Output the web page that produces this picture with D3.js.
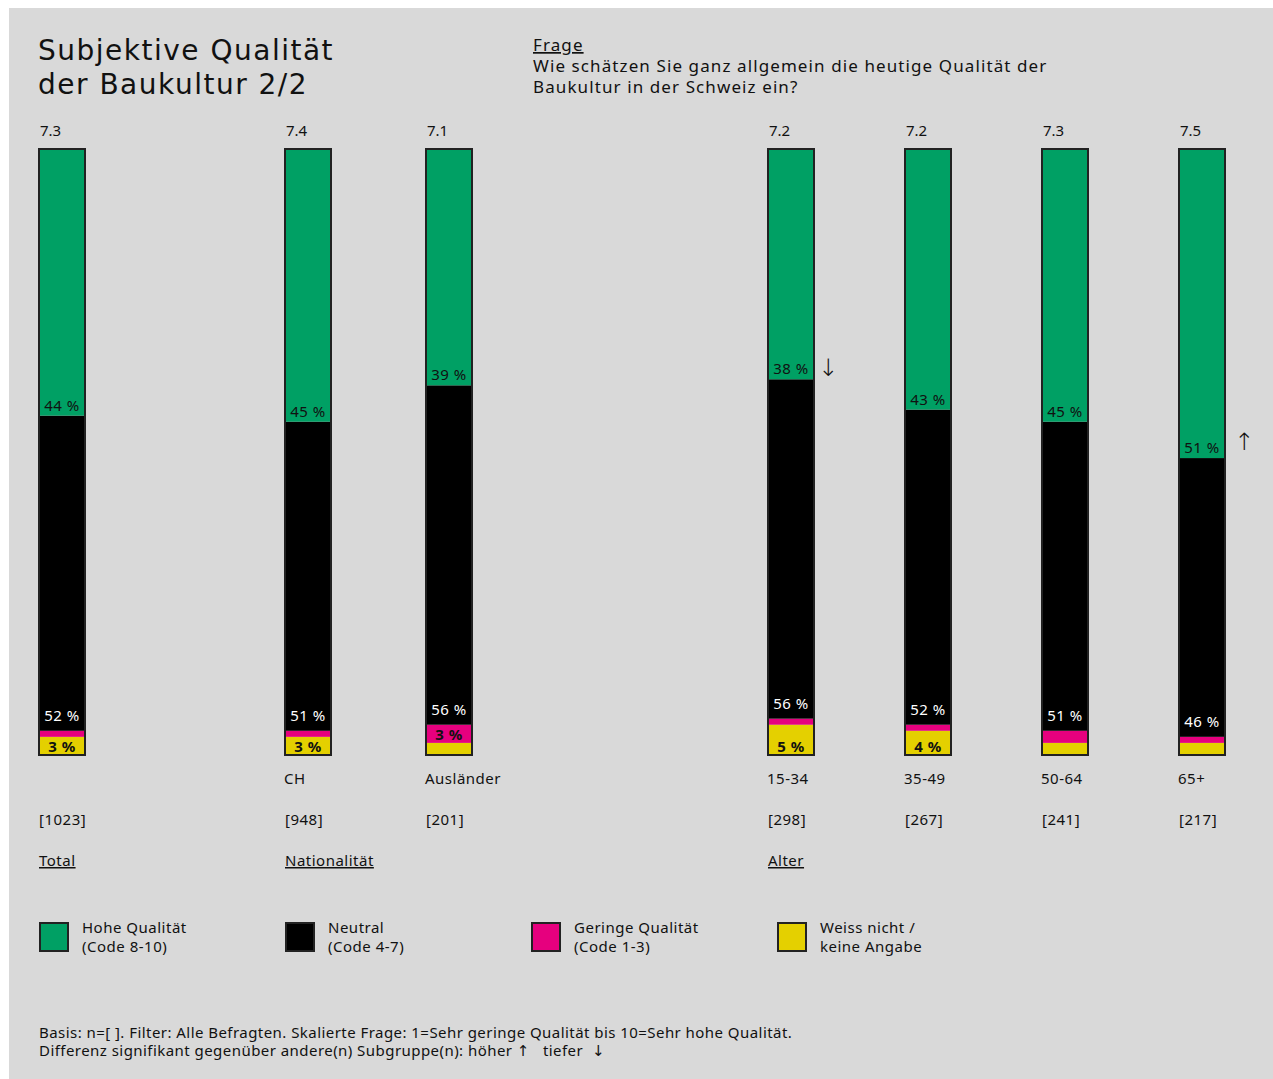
<!DOCTYPE html>
<html>
<head>
<meta charset="utf-8">
<script src="https://cdn.jsdelivr.net/npm/d3@7"></script>
<style>
  html, body { margin: 0; padding: 0; background: #ffffff; }
  svg { display: block; }
  text { font-family: "Noto Sans", "Open Sans", sans-serif; }
  .arrow { font-family: "DejaVu Sans", sans-serif; }
  .title { font-family: "DejaVu Sans", "Noto Sans", sans-serif; }
</style>
</head>
<body>
<svg id="chart" width="1273" height="1079"></svg>
<script>
// ---- data ----
const categories = ["Total", "CH", "Ausländer", "15-34", "35-49", "50-64", "65+"];
const categoryGroups = ["Total", "Nationalität", "Nationalität", "Alter", "Alter", "Alter", "Alter"];
const categoryLabels = ["", "CH", "Ausländer", "15-34", "35-49", "50-64", "65+"];
const sampleSizes = ["[1023]", "[948]", "[201]", "[298]", "[267]", "[241]", "[217]"];
const meanScores = ["7.3", "7.4", "7.1", "7.2", "7.2", "7.3", "7.5"];

// shares in percent, stacked from the bottom: weiss nicht, geringe, neutral, hohe
const weissNicht = [3, 3, 2, 5, 4, 2, 2];
const geringe    = [1, 1, 3, 1, 1, 2, 1];
const neutral    = [52, 51, 56, 56, 52, 51, 46];
const hohe       = [44, 45, 39, 38, 43, 45, 51];

// significance marks: +1 higher, -1 lower, 0 none
const significance = [0, 0, 0, -1, 0, 0, 1];

const seriesKeys = ["weissNicht", "geringe", "neutral", "hohe"];
const legendLabels = [
  ["Hohe Qualität", "(Code 8-10)"],
  ["Neutral", "(Code 4-7)"],
  ["Geringe Qualität", "(Code 1-3)"],
  ["Weiss nicht /", "keine Angabe"]
];
const legendKeys = ["hohe", "neutral", "geringe", "weissNicht"];
const groupNames = ["Total", "Nationalität", "Alter"];

// ---- styles ----
const colors = {
  hohe: "#00a064",
  neutral: "#000000",
  geringe: "#e6007e",
  weissNicht: "#e4d000"
};
const labelColors = { hohe: "#111", neutral: "#fff", geringe: "#111", weissNicht: "#111" };
const bg = "#d9d9d9";
const ls = "0.5px";

const svg = d3.select("#chart");
svg.append("rect").attr("x", 9).attr("y", 8).attr("width", 1264).attr("height", 1071).attr("fill", bg);

// ---- scales ----
// each group gets its own starting column; bars inside a group are spaced evenly
const groupStart = d3.scaleOrdinal().domain(groupNames).range([39, 285, 768]);
const groupStep = d3.scaleOrdinal().domain(groupNames).range([0, 141, 137]);
const indexInGroup = categories.map((c, i) => categoryGroups.slice(0, i).filter(g => g === categoryGroups[i]).length);
const xPos = d3.scaleOrdinal().domain(categories)
  .range(categories.map((c, i) => groupStart(categoryGroups[i]) + indexInGroup[i] * groupStep(categoryGroups[i])));
const barW = 46;

const y = d3.scaleLinear().domain([0, 100]).range([755, 149]);

// ---- stacked data ----
const rows = categories.map((c, i) => ({
  category: c,
  weissNicht: weissNicht[i],
  geringe: geringe[i],
  neutral: neutral[i],
  hohe: hohe[i]
}));
const stacked = d3.stack().keys(seriesKeys)(rows);

const g = svg.append("g");

stacked.forEach(layer => {
  g.append("g").selectAll("rect")
    .data(layer)
    .join("rect")
    .attr("x", d => xPos(d.data.category))
    .attr("y", d => y(d[1]))
    .attr("width", barW)
    .attr("height", d => y(d[0]) - y(d[1]))
    .attr("fill", colors[layer.key]);
});

// bar outlines
g.append("g").selectAll("rect")
  .data(rows)
  .join("rect")
  .attr("x", d => xPos(d.category))
  .attr("y", y(100))
  .attr("width", barW)
  .attr("height", y(0) - y(100))
  .attr("fill", "none")
  .attr("stroke", "#222")
  .attr("stroke-width", 2);

// ---- segment labels ----
const labelOffset = { hohe: 5, neutral: 10, geringe: 3, weissNicht: 3 };
stacked.forEach(layer => {
  const key = layer.key;
  const sel = layer.filter(d => (key === "hohe" || key === "neutral") ? true : d.data[key] >= 3);
  g.append("g").selectAll("text")
    .data(sel)
    .join("text")
    .attr("x", d => xPos(d.data.category) + barW / 2)
    .attr("y", d => y(d[0]) - labelOffset[key])
    .attr("text-anchor", "middle")
    .attr("font-size", 15)
    .attr("letter-spacing", ls)
    .attr("font-weight", (key === "weissNicht" || key === "geringe") ? 700 : 400)
    .attr("fill", labelColors[key])
    .text(d => d.data[key] + " %");
});

// significance arrows
g.append("g").selectAll("text")
  .data(rows.map((r, i) => ({ r, s: significance[i] })).filter(d => d.s !== 0))
  .join("text")
  .attr("class", "arrow")
  .attr("x", d => xPos(d.r.category) + barW + (d.s < 0 ? 14 : 19))
  .attr("y", d => y(d.r.weissNicht + d.r.geringe + d.r.neutral) - (d.s < 0 ? 3 : 8))
  .attr("text-anchor", "middle")
  .attr("font-size", 24)
  .attr("font-weight", 300)
  .attr("fill", "#111")
  .text(d => d.s > 0 ? "↑" : "↓");

// mean scores above bars
g.append("g").selectAll("text")
  .data(categories)
  .join("text")
  .attr("x", d => xPos(d) + 1)
  .attr("y", y(100) - 13)
  .attr("font-size", 15)
  .attr("fill", "#111")
  .text((d, i) => meanScores[i]);

// category labels
g.append("g").selectAll("text")
  .data(categories)
  .join("text")
  .attr("x", d => xPos(d) - 1)
  .attr("y", y(0) + 29)
  .attr("font-size", 15)
  .attr("letter-spacing", ls)
  .attr("fill", "#111")
  .text((d, i) => categoryLabels[i]);

// sample sizes
g.append("g").selectAll("text")
  .data(categories)
  .join("text")
  .attr("x", d => xPos(d))
  .attr("y", y(0) + 70)
  .attr("font-size", 15)
  .attr("letter-spacing", ls)
  .attr("fill", "#111")
  .text((d, i) => sampleSizes[i]);

// group labels (underlined)
g.append("g").selectAll("text")
  .data(groupNames)
  .join("text")
  .attr("x", d => groupStart(d))
  .attr("y", y(0) + 111)
  .attr("font-size", 15)
  .attr("letter-spacing", ls)
  .attr("fill", "#111")
  .attr("text-decoration", "underline")
  .text(d => d);

// ---- title and question ----
svg.append("text").attr("class", "title").attr("x", 38).attr("y", 60).attr("font-size", 28)
  .attr("letter-spacing", "1.5px").attr("fill", "#111")
  .text("Subjektive Qualität");
svg.append("text").attr("class", "title").attr("x", 38).attr("y", 94).attr("font-size", 28)
  .attr("letter-spacing", "1.5px").attr("fill", "#111")
  .text("der Baukultur 2/2");

svg.append("text").attr("x", 533).attr("y", 51).attr("font-size", 17).attr("letter-spacing", "1.1px")
  .attr("fill", "#111").attr("text-decoration", "underline").text("Frage");
svg.append("text").attr("x", 533).attr("y", 72).attr("font-size", 17).attr("letter-spacing", "1.1px")
  .attr("fill", "#111").text("Wie schätzen Sie ganz allgemein die heutige Qualität der");
svg.append("text").attr("x", 533).attr("y", 93).attr("font-size", 17).attr("letter-spacing", "1.1px")
  .attr("fill", "#111").text("Baukultur in der Schweiz ein?");

// ---- legend ----
const legendX = d3.scalePoint().domain(legendKeys).range([39, 777]);
const leg = svg.append("g").selectAll("g")
  .data(legendKeys)
  .join("g")
  .attr("transform", d => `translate(${legendX(d)},922)`);
leg.append("rect")
  .attr("x", 1).attr("y", 1).attr("width", 28).attr("height", 28)
  .attr("fill", d => colors[d])
  .attr("stroke", "#222").attr("stroke-width", 2);
leg.append("text")
  .attr("x", 43).attr("y", 11)
  .attr("font-size", 15).attr("letter-spacing", ls).attr("fill", "#111")
  .text((d, i) => legendLabels[i][0]);
leg.append("text")
  .attr("x", 43).attr("y", 30)
  .attr("font-size", 15).attr("letter-spacing", ls).attr("fill", "#111")
  .text((d, i) => legendLabels[i][1]);

// ---- footnote ----
svg.append("text").attr("x", 39).attr("y", 1038).attr("font-size", 15).attr("letter-spacing", "0.45px")
  .attr("fill", "#111")
  .text("Basis: n=[ ]. Filter: Alle Befragten. Skalierte Frage: 1=Sehr geringe Qualität bis 10=Sehr hohe Qualität.");
const f2 = svg.append("text").attr("x", 39).attr("y", 1056).attr("font-size", 15).attr("letter-spacing", "0.45px")
  .attr("fill", "#111");
f2.append("tspan").text("Differenz signifikant gegenüber andere(n) Subgruppe(n): höher\u00a0");
f2.append("tspan").attr("class", "arrow").text("↑");
f2.append("tspan").text("\u00a0\u00a0\u00a0tiefer\u00a0\u00a0");
f2.append("tspan").attr("class", "arrow").text("↓");
</script>
</body>
</html>
